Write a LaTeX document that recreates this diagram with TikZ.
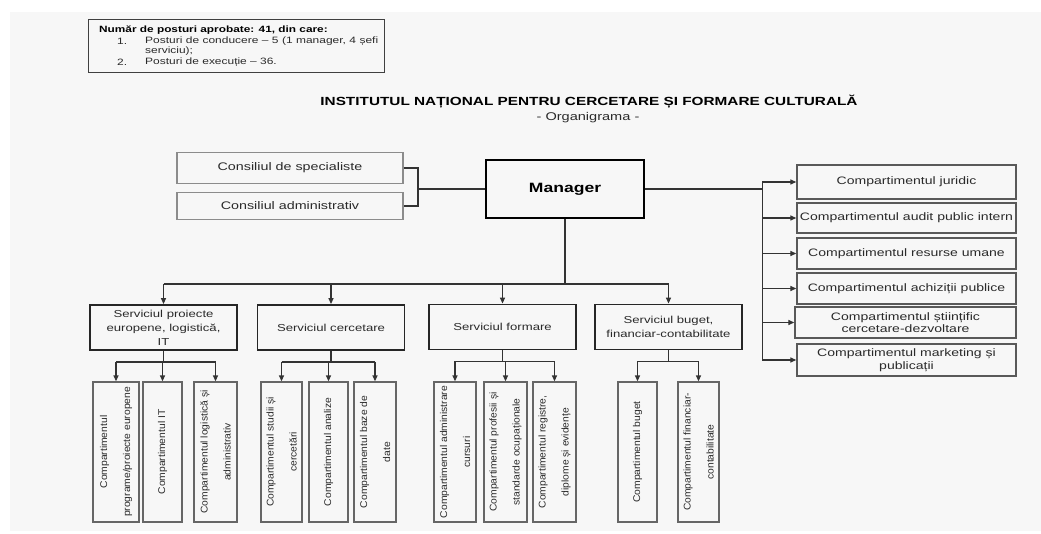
\documentclass[tikz,border=0pt]{standalone}
\usepackage{fontspec}
\setmainfont{Liberation Sans}[FakeStretch=1.3]
\newfontfamily\rotfont{Liberation Sans}[FakeStretch=1.05]
\usetikzlibrary{arrows.meta}
\definecolor{bgc}{HTML}{F7F7F7}
\definecolor{txt}{HTML}{2A2A2A}
\definecolor{lin}{HTML}{333333}
\tikzset{
  cons/.style={draw=black!45, line width=1.4pt, fill=bgc, minimum width=226pt, inner sep=0pt, text=txt, font=\fontsize{11}{13}\selectfont},
  mgrbox/.style={draw=black, line width=2.6pt, fill=bgc, minimum width=158pt, minimum height=58pt, inner sep=0pt, font=\bfseries\fontsize{13.5}{16}\selectfont},
  servbox/.style={draw=black!85, line width=1.8pt, fill=bgc, minimum width=147pt, minimum height=45pt, inner sep=0pt, align=center, text=txt, font=\fontsize{10.1}{14}\selectfont},
  rbox/.style={draw=black!65, line width=1.4pt, fill=bgc, minimum width=219pt, minimum height=31pt, inner sep=0pt, align=center, text=txt, font=\fontsize{10.8}{12.5}\selectfont},
  subbox/.style={draw=black!60, line width=1.3pt, fill=bgc, rotate=90, minimum width=140pt, inner sep=0pt, align=center, text=txt, font=\rotfont\fontsize{9.8}{23}\selectfont},
  conn/.style={draw=lin, line width=1.3pt},
  arr/.style={conn, -{Triangle[length=6pt,width=5pt]}},
  notetxt/.style={anchor=west, inner sep=0pt, text=txt, font=\fontsize{9.2}{10}\selectfont}
}
\begin{document}
\begin{tikzpicture}[x=1pt,y=-1pt]
\useasboundingbox (0,0) rectangle (1041,534);
\fill[white] (0,0) rectangle (1041,534);
\fill[bgc] (10,12) rectangle (1041,531);

% note box
\node[draw=black!75, line width=1pt, minimum width=296pt, minimum height=53pt, inner sep=0pt] (note) at (236,46.5) {};
\node[notetxt, text=black, font=\bfseries\fontsize{9.1}{10}\selectfont] (n0) at (99,30) {Număr de posturi aprobate: 41, din care:};
\node[notetxt] (n1a) at (117,41) {1.};
\node[notetxt] (n1b) at (145,41) {\makebox[233pt][s]{Posturi de conducere – 5 (1 manager, 4 șefi}};
\node[notetxt] (n1c) at (145,51) {serviciu);};
\node[notetxt] (n2a) at (117,62) {2.};
\node[notetxt] (n2b) at (145,62) {Posturi de execuție – 36.};

% title
\node[font=\bfseries\fontsize{11.8}{14}\selectfont] (title) at (589,102) {INSTITUTUL NAȚIONAL PENTRU CERCETARE ȘI FORMARE CULTURALĂ};
\node[text=txt, font=\fontsize{11.2}{13}\selectfont] (subtitle) at (588,117.5) {- Organigrama -};

% councils and manager
\node[cons, minimum height=31pt] (cs) at (290,168) {Consiliul de specialiste};
\node[cons, minimum height=27pt] (ca) at (290,206) {Consiliul administrativ};
\node[mgrbox] (mgr) at (565,189) {Manager};

\coordinate (br) at (418,189);
\draw[conn] (cs.east) -| (br) |- (ca.east);
\draw[conn] (br) -- (mgr.west);

% right compartments
\node[rbox, minimum height=34pt] (jur) at (906.5,182) {Compartimentul juridic};
\node[rbox, minimum height=30pt] (aud) at (906.5,218) {Compartimentul audit public intern};
\node[rbox] (res) at (906.5,253.5) {Compartimentul resurse umane};
\node[rbox] (ach) at (906.5,288.5) {Compartimentul achiziții publice};
\node[rbox, minimum width=221pt] (sti) at (905.5,322.5) {Compartimentul științific\\cercetare-dezvoltare};
\node[rbox, minimum height=32pt] (mkt) at (906.5,360) {Compartimentul marketing și\\publicații};

\path (mgr.east) -- ++(117,0) coordinate (rb);
\draw[conn] (mgr.east) -- (rb);
\draw[conn] (rb |- jur.west) -- (rb |- mkt.west);
\foreach \n in {jur,aud,res,ach,sti,mkt}{
  \draw[arr] (rb |- \n.west) -- (\n.west);
}

% services
\node[servbox] (s1) at (163.5,327.5) {Serviciul proiecte\\europene, logistică,\\IT};
\node[servbox] (s2) at (331,327.5) {Serviciul cercetare};
\node[servbox] (s3) at (502.5,327) {Serviciul formare};
\node[servbox] (s4) at (668.5,327) {Serviciul buget,\\financiar-contabilitate};

\path (mgr.south) -- (565,284) coordinate (db);
\draw[conn] (mgr.south) -- (db);
\draw[conn] (db -| s1.north) -- (db -| s4.north);
\foreach \n in {s1,s2,s3,s4}{
  \draw[arr] (db -| \n.north) -- (\n.north);
}

% sub compartments
\node[subbox, minimum height=46pt] (a) at (116,452) {Compartimentul\\programe/proiecte europene};
\node[subbox, minimum height=39pt] (b) at (162.5,452) {Compartimentul IT};
\node[subbox, minimum height=43pt] (c) at (215.5,452) {Compartimentul logistică și\\administrativ};
\node[subbox, minimum height=41pt] (d) at (281.5,452) {Compartimentul studii și\\cercetări};
\node[subbox, minimum height=39pt] (e) at (328.5,452) {Compartimentul analize};
\node[subbox, minimum height=42pt] (f) at (375,452) {Compartimentul baze de\\date};
\node[subbox, minimum height=42pt] (g) at (455,452) {Compartimentul administrare\\cursuri};
\node[subbox, minimum height=43pt] (h) at (505.5,452) {Compartimentul profesii și\\standarde ocupaționale};
\node[subbox, minimum height=43pt] (i) at (554.5,452) {Compartimentul registre,\\diplome și evidențe};
\node[subbox, minimum height=39pt] (j) at (637.5,452) {Compartimentul buget};
\node[subbox, minimum height=41pt] (k) at (698.5,452) {Compartimentul financiar-\\contabilitate};

\foreach \s/\first/\last/\kids in {s1/a/c/{a,b,c}, s2/d/f/{d,e,f}, s3/g/i/{g,h,i}, s4/j/k/{j,k}}{
  \path (\s.south) -- ++(0,11) coordinate (\s b);
  \draw[conn] (\s.south) -- (\s b);
  \draw[conn] (\s b -| \first.east) -- (\s b -| \last.east);
  \foreach \kk in \kids {
    \draw[arr] (\s b -| \kk.east) -- (\kk.east);
  }
}
\end{tikzpicture}
\end{document}
